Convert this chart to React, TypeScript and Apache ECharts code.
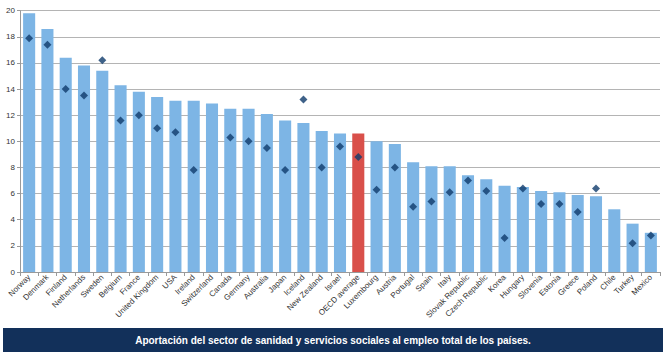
import React, { useEffect, useRef } from "react";
import * as echarts from "echarts";

const countries = [
  "Norway", "Denmark", "Finland", "Netherlands", "Sweden", "Belgium", "France",
  "United Kingdom", "USA", "Ireland", "Switzerland", "Canada", "Germany", "Australia",
  "Japan", "Iceland", "New Zealand", "Israel", "OECD average", "Luxembourg", "Austria",
  "Portugal", "Spain", "Italy", "Slovak Republic", "Czech Republic", "Korea", "Hungary",
  "Slovenia", "Estonia", "Greece", "Poland", "Chile", "Turkey", "Mexico",
];

const barValues = [
  19.8, 18.6, 16.4, 15.8, 15.4, 14.3, 13.8, 13.4, 13.1, 13.1, 12.9, 12.5, 12.5, 12.1,
  11.6, 11.4, 10.8, 10.6, 10.6, 10.0, 9.8, 8.4, 8.1, 8.1, 7.4, 7.1, 6.6, 6.5,
  6.2, 6.1, 5.9, 5.8, 4.8, 3.7, 3.0,
];

const markerValues: (number | null)[] = [
  17.9, 17.4, 14.0, 13.5, 16.2, 11.6, 12.0, 11.0, 10.7, 7.8, null, 10.3, 10.0, 9.5,
  7.8, 13.2, 8.0, 9.6, 8.8, 6.3, 8.0, 5.0, 5.4, 6.1, 7.0, 6.2, 2.6, 6.4,
  5.2, 5.2, 4.6, 6.4, null, 2.2, 2.8,
];

const yTicks = [0, 2, 4, 6, 8, 10, 12, 14, 16, 18, 20];

const highlight = "OECD average";
const captionText = "Aportación del sector de sanidad y servicios sociales al empleo total de los países.";

export default function App() {
  const ref = useRef<HTMLDivElement>(null);
  useEffect(() => {
    document.body.style.margin = "0";
    if (!ref.current) return;
    const chart = echarts.init(ref.current, null, { renderer: "svg" });
    const font = "Liberation Sans";
    chart.setOption({
      animation: false,
      backgroundColor: "#ffffff",
      textStyle: { fontFamily: font },
      grid: { left: 20, right: 8, top: 10.7, bottom: 89, containLabel: false },
      xAxis: {
        type: "category",
        data: countries,
        axisLine: { lineStyle: { color: "#9a9a9a" } },
        axisTick: { show: true, lineStyle: { color: "#9a9a9a" }, length: 4 },
        axisLabel: { rotate: 45, fontSize: 8, color: "#333", margin: 4, interval: 0, fontFamily: font },
      },
      yAxis: {
        type: "value",
        min: yTicks[0],
        max: yTicks[yTicks.length - 1],
        interval: 2,
        axisLine: { show: true, lineStyle: { color: "#9a9a9a" } },
        axisTick: { show: true, lineStyle: { color: "#9a9a9a" }, length: 3 },
        axisLabel: { fontSize: 8, color: "#333", margin: 5, fontFamily: font },
        splitLine: { lineStyle: { color: "#b4b4b4", width: 1 } },
      },
      series: [
        {
          type: "bar",
          data: barValues.map((v, i) => ({
            value: v,
            itemStyle: { color: countries[i] === highlight ? "#d9504a" : "#7db5e5" },
          })),
          barWidth: "66%",
        },
        {
          type: "scatter",
          data: markerValues,
          symbol: "diamond",
          symbolSize: 8,
          itemStyle: { color: "#0f3b6b" },
          z: 5,
        },
      ],
      graphic: [
        {
          type: "rect",
          shape: { x: 3, y: 328, width: 660, height: 24 },
          style: { fill: "#12305a" },
        },
        {
          type: "text",
          x: 333,
          y: 340,
          style: {
            text: captionText,
            fill: "#ffffff",
            font: `bold 10px "${font}"`,
            textAlign: "center",
            textVerticalAlign: "middle",
          },
        },
      ],
    });
    return () => chart.dispose();
  }, []);
  return <div ref={ref} style={{ width: 668, height: 361 }} />;
}
